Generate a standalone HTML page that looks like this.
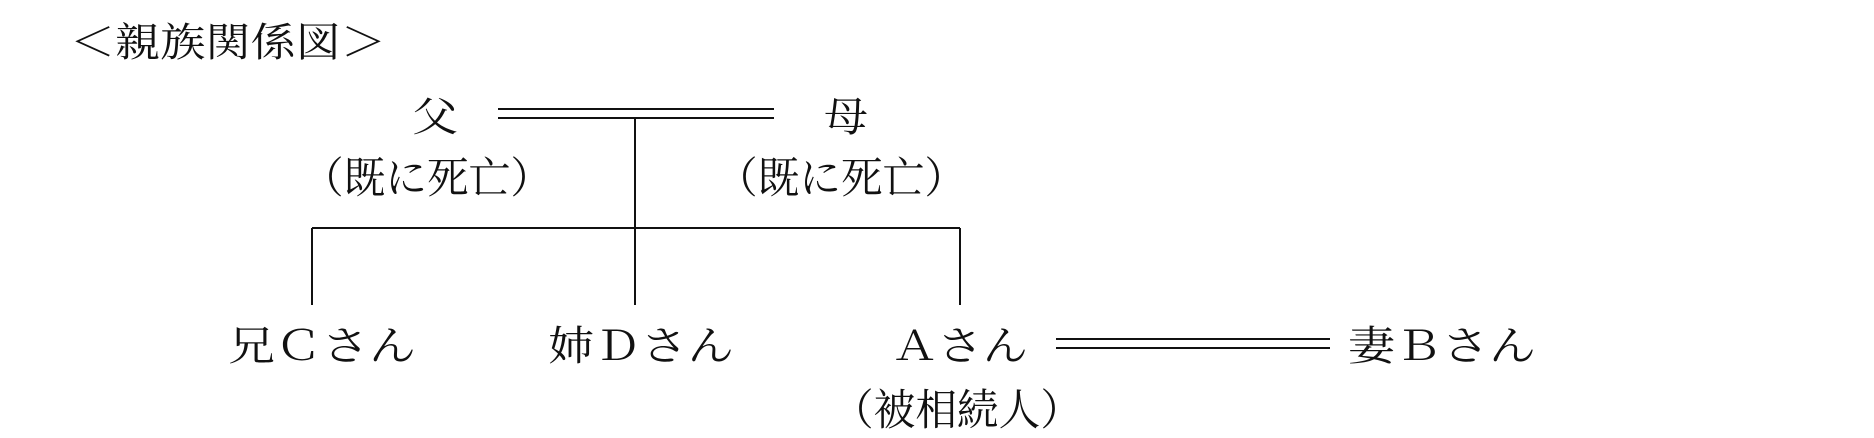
<!DOCTYPE html>
<html><head><meta charset="utf-8"><style>
html,body{margin:0;padding:0;background:#fff;width:1874px;height:438px;overflow:hidden}
svg{display:block}
text{font-family:"Liberation Serif","Noto Serif CJK SC",serif;font-size:41px;fill:#111}
</style></head><body>
<svg width="1874" height="438" viewBox="0 0 1874 438">
<text x="70" y="56" textLength="316" lengthAdjust="spacingAndGlyphs" style="font-size:40px">＜親族関係図＞</text>
<text x="412" y="131" textLength="46" lengthAdjust="spacingAndGlyphs">父</text>
<text x="824" y="131" textLength="44" lengthAdjust="spacingAndGlyphs">母</text>
<g stroke="#111" stroke-width="2" fill="none">
<line x1="498" y1="109" x2="774" y2="109"/>
<line x1="498" y1="118" x2="774" y2="118"/>
<line x1="635" y1="118" x2="635" y2="305"/>
<line x1="312" y1="228" x2="960" y2="228"/>
<line x1="312" y1="228" x2="312" y2="305"/>
<line x1="960" y1="228" x2="960" y2="305"/>
<line x1="1056" y1="339" x2="1330" y2="339"/>
<line x1="1056" y1="348" x2="1330" y2="348"/>
</g>
<text x="302" y="193" textLength="250" lengthAdjust="spacingAndGlyphs" style="font-size:43px">（既に死亡）</text>
<text x="716" y="193" textLength="250" lengthAdjust="spacingAndGlyphs" style="font-size:43px">（既に死亡）</text>
<text x="228" y="360" textLength="188" lengthAdjust="spacingAndGlyphs">兄Ｃさん</text>
<text x="548" y="360" textLength="186" lengthAdjust="spacingAndGlyphs">姉Ｄさん</text>
<text x="892" y="360" textLength="136" lengthAdjust="spacingAndGlyphs">Ａさん</text>
<text x="1348" y="360" textLength="188" lengthAdjust="spacingAndGlyphs">妻Ｂさん</text>
<text x="832" y="425" textLength="250" lengthAdjust="spacingAndGlyphs" style="font-size:43px">（被相続人）</text>
</svg>
</body></html>
